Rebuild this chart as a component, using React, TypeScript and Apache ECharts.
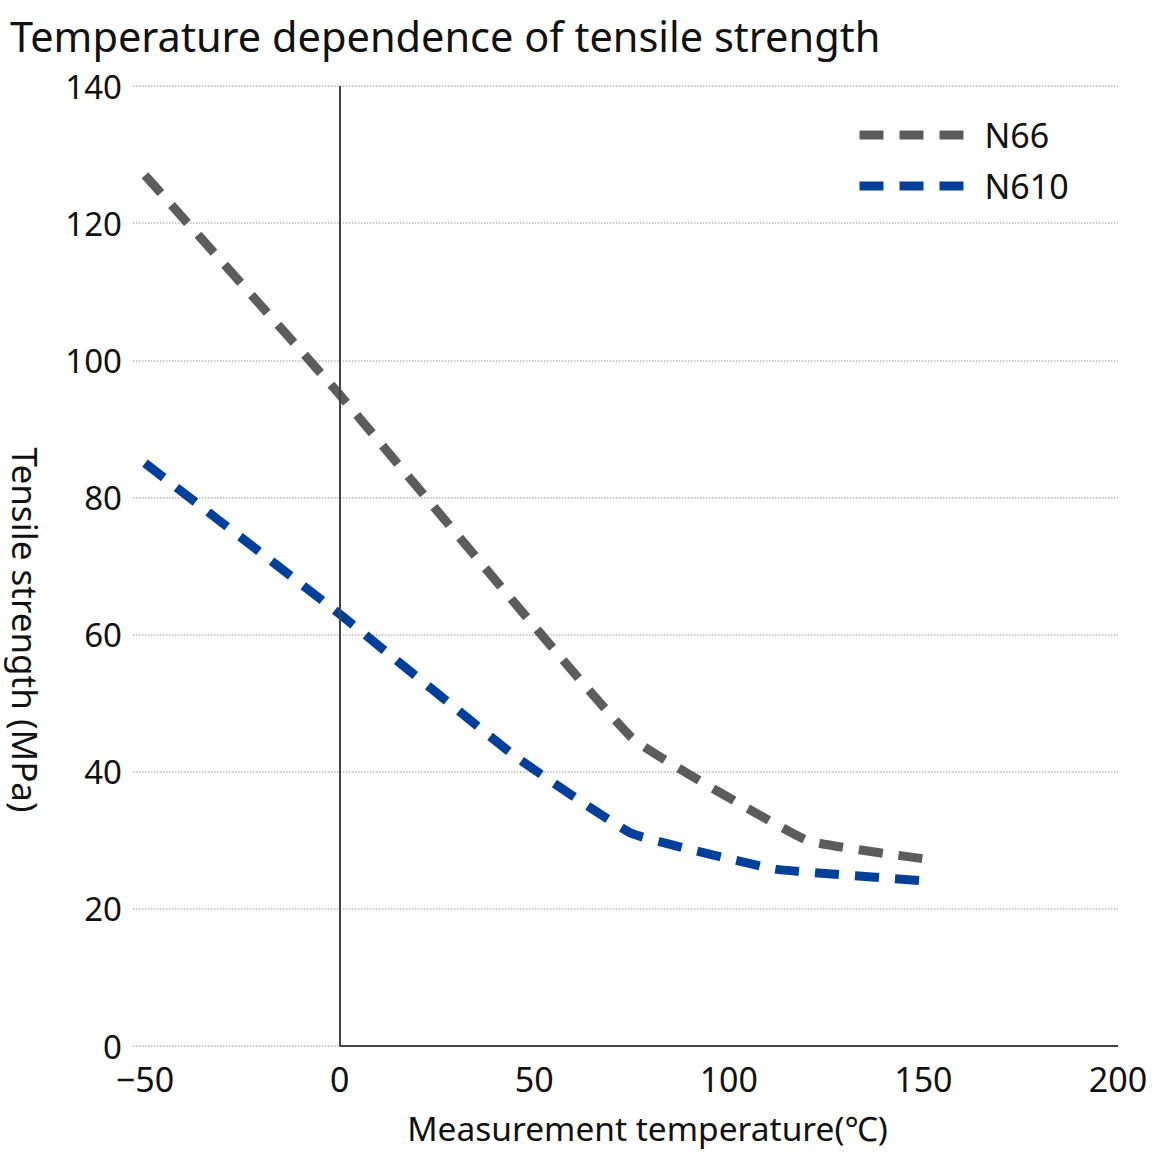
import React, { useEffect, useRef } from "react";
import * as echarts from "echarts";

const titleText = "Temperature dependence of tensile strength";
const xAxisName = "Measurement temperature(℃)";
const yAxisName = "Tensile strength (MPa)";
const seriesNames = ["N66", "N610"];
const n66Temps = [-50, 0, 75, 120, 150];
const n66Strength = [127, 95, 45, 30, 27.3];
const n610Temps = [-50, 0, 45, 75, 112, 150];
const n610Strength = [85, 63, 42.3, 31, 25.8, 24.1];
const xRange = [-50, 200];
const yRange = [0, 140];

const FONT = "'Noto Sans', 'Noto Sans CJK JP', sans-serif";
const TEXT = "#111111";
const GRAY = "#5c5c5c";
const BLUE = "#00409a";

export default function App() {
  const ref = useRef<HTMLDivElement>(null);
  useEffect(() => {
    if (!ref.current) return;
    const chart = echarts.init(ref.current, undefined, { renderer: "svg" });
    const dash = [24, 16];
    chart.setOption({
      animation: false,
      backgroundColor: "#ffffff",
      textStyle: { fontFamily: FONT },
      title: {
        text: titleText,
        left: 5,
        top: 10,
        textStyle: { fontFamily: FONT, fontSize: 41.5, fontWeight: "normal", color: TEXT },
      },
      legend: {
        orient: "vertical",
        left: 850,
        top: 110,
        itemWidth: 104,
        itemHeight: 10,
        itemGap: 11,
        lineStyle: { width: 9, type: dash, cap: "butt" },
        textStyle: { fontFamily: FONT, fontSize: 34, color: TEXT, lineHeight: 40, padding: [0, 0, 0, 16] },
        data: seriesNames,
      },
      grid: [
        { left: 128, right: 42, top: 86, bottom: 108 },
        { left: 145, right: 42, top: 86, bottom: 108 },
      ],
      xAxis: [
        { gridIndex: 0, type: "value", min: 0, max: 1, show: false },
        {
          gridIndex: 1,
          type: "value",
          min: xRange[0],
          max: xRange[1],
          interval: 50,
          axisLine: { show: false },
          axisTick: { show: false },
          splitLine: { show: false },
          axisLabel: {
            margin: 16,
            fontSize: 34,
            color: TEXT,
            fontFamily: FONT,
            formatter: (v: number) => (v < 0 ? "\u2212" + Math.abs(v) : String(v)),
          },
          name: xAxisName,
          nameLocation: "middle",
          nameGap: 65,
          nameTextStyle: { fontSize: 33.5, color: TEXT, fontFamily: FONT, padding: [0, 0, 0, 32] },
        },
      ],
      yAxis: [
        {
          gridIndex: 0,
          type: "value",
          min: yRange[0],
          max: yRange[1],
          interval: 20,
          axisLine: { show: false },
          axisTick: { show: false },
          axisLabel: { margin: 11, fontSize: 33, color: TEXT, fontFamily: FONT },
          splitLine: { show: true, lineStyle: { type: "dotted", color: "#b8b8b8", width: 1.5 } },
          name: yAxisName,
          nameLocation: "middle",
          nameRotate: -90,
          nameGap: 90,
          nameTextStyle: { fontSize: 35, color: TEXT, fontFamily: FONT, padding: [0, 0, 0, 128] },
        },
        {
          gridIndex: 1,
          type: "value",
          min: yRange[0],
          max: yRange[1],
          interval: 20,
          show: false,
        },
      ],
      series: [
        {
          name: "axes",
          type: "line",
          xAxisIndex: 1,
          yAxisIndex: 1,
          data: [],
          silent: true,
          symbol: "none",
          markLine: {
            silent: true,
            symbol: "none",
            label: { show: false },
            lineStyle: { color: "#444444", width: 2, type: "solid" },
            data: [
              [{ coord: [0, yRange[0]] }, { coord: [0, yRange[1]] }],
              [{ coord: [0, yRange[0]] }, { coord: [xRange[1], yRange[0]] }],
            ],
          },
          z: 1,
        },
        {
          name: seriesNames[0],
          type: "line",
          xAxisIndex: 1,
          yAxisIndex: 1,
          data: n66Temps.map((t, i) => [t, n66Strength[i]]),
          symbol: "none",
          smooth: 0.1,
          lineStyle: { color: GRAY, width: 9, type: dash, cap: "butt" },
          itemStyle: { color: GRAY },
          z: 3,
        },
        {
          name: seriesNames[1],
          type: "line",
          xAxisIndex: 1,
          yAxisIndex: 1,
          data: n610Temps.map((t, i) => [t, n610Strength[i]]),
          symbol: "none",
          smooth: 0.1,
          lineStyle: { color: BLUE, width: 9, type: dash, cap: "butt" },
          itemStyle: { color: BLUE },
          z: 3,
        },
      ],
    });
    return () => chart.dispose();
  }, []);
  return (
    <div
      ref={ref}
      style={{ position: "absolute", left: 0, top: 0, width: 1160, height: 1154 }}
    />
  );
}
